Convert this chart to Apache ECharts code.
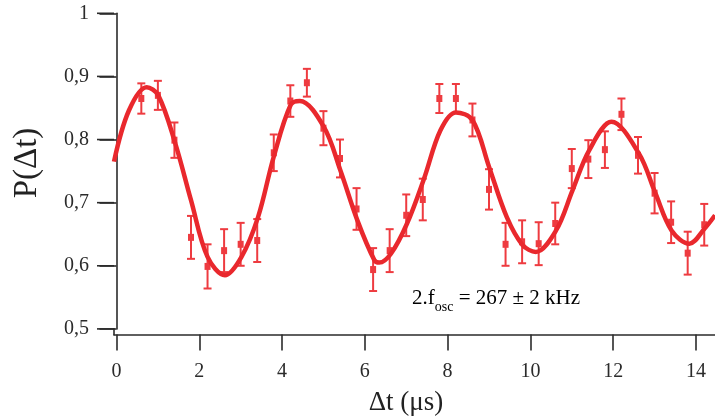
<!DOCTYPE html>
<html>
<head>
<meta charset="utf-8">
<script src="https://cdn.jsdelivr.net/npm/echarts@6/dist/echarts.min.js"></script>
<style>html,body{margin:0;padding:0;background:#fff}#c{width:715px;height:419px}</style>
</head>
<body>
<div id="c"></div>
<script>
// Measured data (Δt in µs, probability, error)
const tValues = [0.6,1.0,1.4,1.8,2.2,2.6,3.0,3.4,3.8,4.2,4.6,5.0,5.4,5.8,6.2,6.6,7.0,7.4,7.8,8.2,8.6,9.0,9.4,9.8,10.2,10.6,11.0,11.4,11.8,12.2,12.6,13.0,13.4,13.8,14.2];
const pValues = [0.865,0.870,0.799,0.645,0.599,0.624,0.634,0.640,0.779,0.861,0.890,0.818,0.770,0.690,0.594,0.624,0.680,0.705,0.865,0.865,0.831,0.721,0.634,0.638,0.635,0.667,0.754,0.769,0.784,0.840,0.775,0.715,0.669,0.620,0.665];
const errValues = [0.024,0.023,0.028,0.034,0.035,0.034,0.034,0.034,0.029,0.025,0.022,0.027,0.030,0.033,0.034,0.034,0.033,0.033,0.023,0.023,0.026,0.032,0.034,0.034,0.034,0.033,0.031,0.030,0.029,0.025,0.029,0.032,0.033,0.034,0.033];
// Fit curve
const fitT = [-0.06,0.3,0.73,1.01,1.42,1.80,2.20,2.62,3.02,3.42,3.80,4.21,4.43,5.01,5.41,5.82,6.23,6.35,6.63,7.02,7.43,7.83,8.20,8.60,9.00,9.43,9.81,10.13,10.62,11.02,11.42,11.96,12.62,13.02,13.41,13.84,14.21,14.46];
const fitP = [0.765,0.846,0.883,0.870,0.794,0.704,0.614,0.585,0.614,0.677,0.773,0.855,0.861,0.820,0.751,0.672,0.609,0.605,0.619,0.667,0.738,0.815,0.843,0.831,0.757,0.677,0.633,0.622,0.656,0.720,0.783,0.828,0.778,0.715,0.656,0.635,0.659,0.680];
const xTicks = [0,2,4,6,8,10,12,14];
const yTicks = [0.5,0.6,0.7,0.8,0.9,1];

const RED = '#e9282d';
const BAR = '#ee3b40';
const AX = '#2b2b2b';
const FONT = '"Liberation Serif", "DejaVu Serif", serif';
const X_MIN = -0.06, X_MAX = 14.46;

const chart = echarts.init(document.getElementById('c'), null, {renderer: 'canvas'});
const pts = tValues.map((t, i) => [t, pValues[i], errValues[i]]);
const fit = fitT.map((t, i) => [t, fitP[i]]);

const graphics = [
  {type: 'text', x: 27, y: 163, rotation: Math.PI / 2,
    style: {text: 'P(Δt)', font: '33px ' + FONT, fill: '#222', align: 'center', verticalAlign: 'middle'}},
  {type: 'text', x: 406, y: 403,
    style: {text: 'Δt (μs)', font: '27px ' + FONT, fill: '#222', align: 'center', verticalAlign: 'middle'}},
  {type: 'text', x: 412, y: 299,
    style: {
      text: '{m|2.f}{s|osc}{m| = 267 ± 2 kHz}',
      verticalAlign: 'middle',
      rich: {
        m: {fontFamily: FONT, fontSize: 21, color: '#222', lineHeight: 30, verticalAlign: 'top', padding: [4, 0, 0, 0]},
        s: {fontFamily: FONT, fontSize: 14, color: '#222', lineHeight: 30, verticalAlign: 'bottom'}
      }
    }}
];

chart.setOption({
  animation: false,
  backgroundColor: '#fff',
  grid: {left: 114, right: 0, top: 13.3, height: 315.6},
  xAxis: {
    type: 'value', min: X_MIN, max: X_MAX, offset: 5.5,
    axisLine: {show: true, onZero: false, lineStyle: {color: AX, width: 1.6}},
    axisTick: {show: true, length: 16, customValues: xTicks, lineStyle: {color: AX, width: 1.6}},
    axisLabel: {customValues: xTicks, margin: 27, color: AX, fontFamily: FONT, fontSize: 20},
    splitLine: {show: false}
  },
  yAxis: {
    type: 'value', min: 0.5, max: 1, interval: 0.1,
    axisLine: {show: true, lineStyle: {color: AX, width: 1.6}},
    axisTick: {show: true, inside: false, length: 17, lineStyle: {color: AX, width: 1.6}},
    axisLabel: {margin: 25, color: AX, fontFamily: FONT, fontSize: 20,
      formatter: v => String(Math.round(v * 10) / 10).replace('.', ',')},
    splitLine: {show: false}
  },
  series: [
    {
      type: 'custom',
      data: pts,
      z: 2,
      renderItem: (params, api) => {
        const t = api.value(0), p = api.value(1), e = api.value(2);
        const c = api.coord([t, p]);
        const top = api.coord([t, p + e]);
        const bot = api.coord([t, p - e]);
        const st = {stroke: BAR, lineWidth: 2};
        return {
          type: 'group',
          children: [
            {type: 'line', shape: {x1: c[0], y1: top[1], x2: c[0], y2: bot[1]}, style: st},
            {type: 'line', shape: {x1: c[0] - 4, y1: top[1], x2: c[0] + 4, y2: top[1]}, style: st},
            {type: 'line', shape: {x1: c[0] - 4, y1: bot[1], x2: c[0] + 4, y2: bot[1]}, style: st},
            {type: 'rect', shape: {x: c[0] - 3, y: c[1] - 3.5, width: 6, height: 7}, style: {fill: BAR}}
          ]
        };
      }
    },
    {
      type: 'line',
      data: fit,
      smooth: 0.35,
      symbol: 'none',
      z: 3,
      lineStyle: {color: RED, width: 4.5}
    }
  ],
  graphic: graphics
});

// y-axis tick marks and the short axis extension, positioned through the axis scale
const tickEls = yTicks.map(v => {
  const p = chart.convertToPixel({gridIndex: 0}, [X_MIN, v]);
  return {type: 'line', z: 100, shape: {x1: p[0] - 17, y1: p[1], x2: p[0], y2: p[1]},
    style: {stroke: AX, lineWidth: 1.6}};
});
const b = chart.convertToPixel({gridIndex: 0}, [X_MIN, 0.5]);
tickEls.push({type: 'line', z: 100, shape: {x1: b[0], y1: b[1] - 1, x2: b[0], y2: b[1] + 6.3},
  style: {stroke: AX, lineWidth: 1.6}});
chart.setOption({graphic: graphics.concat(tickEls)});
</script>
</body>
</html>
